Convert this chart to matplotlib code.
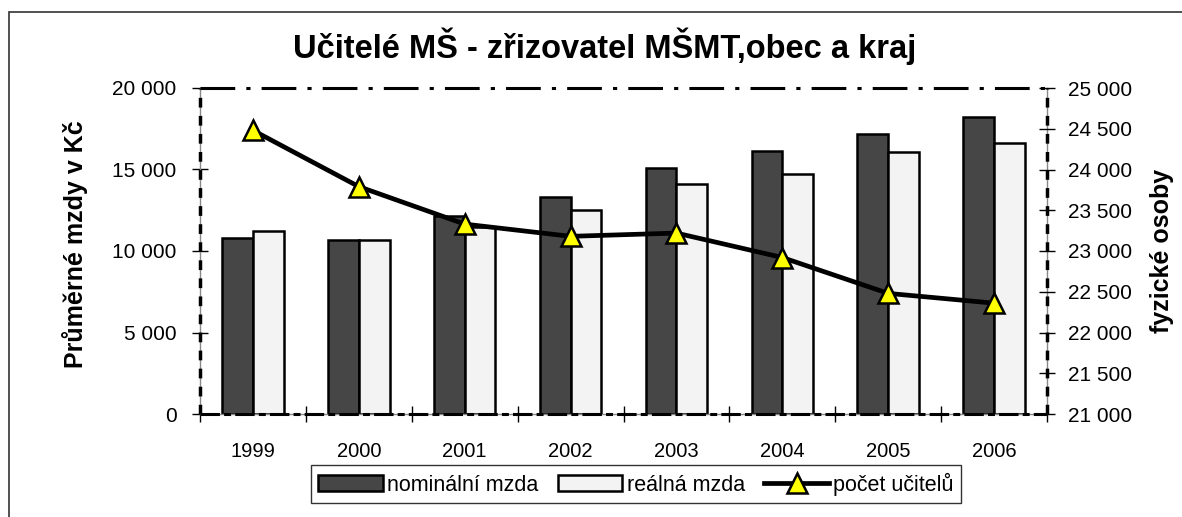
import numpy as np
import matplotlib
matplotlib.use('Agg')
import matplotlib.pyplot as plt
from matplotlib.ticker import FuncFormatter, FixedLocator
from matplotlib.patches import Rectangle

plt.rcParams['font.family'] = ['Liberation Sans', 'DejaVu Sans']
plt.rcParams['lines.scale_dashes'] = False

# data
years = ['1999', '2000', '2001', '2002', '2003', '2004', '2005', '2006']
nominal = [10800, 10700, 12150, 13300, 15100, 16150, 17200, 18250]
real = [11200, 10700, 11500, 12500, 14100, 14700, 16100, 16650]
teachers = [24480, 23790, 23330, 23180, 23220, 22920, 22480, 22360]

W, H = 1182, 517
fig = plt.figure(figsize=(W / 100, H / 100), dpi=100)

# outer border of the chart
fig.patches.append(Rectangle((9 / W, -0.1), 1.2, 1.1 - 12 / H, transform=fig.transFigure,
                             fill=False, edgecolor='#333333', linewidth=1.2))

ax = fig.add_axes([200 / W, 1 - 414 / H, 847 / W, 326 / H])
x = np.arange(len(years))
bw = 0.29
ax.bar(x - bw / 2, nominal, bw, color='#464646', edgecolor='black', linewidth=1.8,
       label='nominální mzda', zorder=2)
ax.bar(x + bw / 2, real, bw, color='#f3f3f3', edgecolor='black', linewidth=1.8,
       label='reálná mzda', zorder=2)

ax.set_xlim(-0.5, len(years) - 0.5)
ax.set_ylim(0, 20000)
ax.yaxis.set_major_locator(FixedLocator([0, 5000, 10000, 15000, 20000]))
fmt = FuncFormatter(lambda v, p: f'{int(v):,}'.replace(',', ' '))
ax.yaxis.set_major_formatter(fmt)
ax.set_xticks(x)
ax.set_xticklabels(years)
ax.set_xticks(np.arange(-0.5, len(years)), minor=True)
ax.tick_params(axis='x', which='major', length=0, pad=20, labelsize=14.5)
ax.tick_params(axis='x', which='minor', direction='inout', length=12, width=1)
ax.tick_params(axis='y', direction='inout', length=12, width=1, pad=11, labelsize=15)

for s in ['left', 'right', 'bottom']:
    ax.spines[s].set_color('#888888')
    ax.spines[s].set_linewidth(1)
ax.spines['top'].set_visible(False)

# dashed black overlays on the plot area border
ax.plot([0, 1], [1, 1], transform=ax.transAxes, color='black', lw=2.2,
        dashes=(25, 8, 3, 8), clip_on=False, zorder=5)
ax.plot([0, 0], [0, 1], transform=ax.transAxes, color='black', lw=2.5,
        dashes=(7, 6), clip_on=False, zorder=5)
ax.plot([1, 1], [0, 1], transform=ax.transAxes, color='black', lw=2.5,
        dashes=(7, 6), clip_on=False, zorder=5)
ax.plot([0, 1], [0, 0], transform=ax.transAxes, color='black', lw=2.2,
        dashes=(14, 3, 5, 3), clip_on=False, zorder=5)

ax.set_ylabel('Průměrné mzdy v Kč', fontsize=18, fontweight='bold')
ax.yaxis.set_label_coords((88 - 200) / 847, 0.52)

ax2 = ax.twinx()
ax2.plot(x, teachers, color='black', lw=3.4, marker='^', markersize=15,
         markerfacecolor='#ffff00', markeredgecolor='black', markeredgewidth=1.8,
         label='počet učitelů', zorder=4)
ax2.set_ylim(21000, 25000)
ax2.yaxis.set_major_locator(FixedLocator(np.arange(21000, 25001, 500)))
ax2.yaxis.set_major_formatter(fmt)
ax2.tick_params(axis='y', direction='inout', length=12, width=1, pad=9, labelsize=15)
for s in ax2.spines.values():
    s.set_visible(False)
ax2.set_ylabel('fyzické osoby', fontsize=18, fontweight='bold')
ax2.yaxis.set_label_coords((1150 - 200) / 847, 0.5)

fig.text(605 / W, 1 - 46 / H, 'Učitelé MŠ - zřizovatel MŠMT,obec a kraj',
         fontsize=23.5, fontweight='bold', ha='center', va='center')

h1, l1 = ax.get_legend_handles_labels()
h2, l2 = ax2.get_legend_handles_labels()
leg = fig.legend(h1 + h2, l1 + l2, loc='center', bbox_to_anchor=(636 / W, 1 - 484 / H),
                 ncol=3, fontsize=15.5, frameon=True, fancybox=False, edgecolor='black',
                 handlelength=3.0, handleheight=0.8, handletextpad=0.2, columnspacing=0.9,
                 borderpad=0.35)
leg.get_frame().set_linewidth(1)

fig.savefig('out.png', dpi=100)
